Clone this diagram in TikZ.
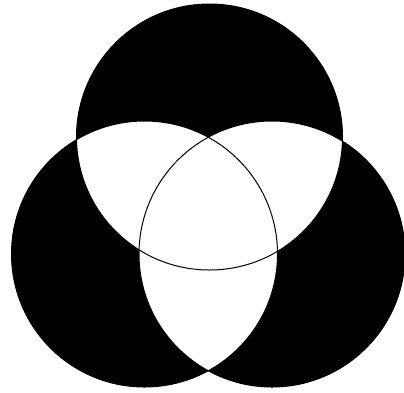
\documentclass[tikz,border=0pt]{standalone}
\begin{document}
\begin{tikzpicture}[x=1pt,y=-1pt,
  ring/.style={draw=black,line width=1pt}]
\useasboundingbox (0,0) rectangle (404,392);
\fill[white] (0,0) rectangle (404,392);
\coordinate (T) at (209.5,137);
\coordinate (L) at (144.5,254);
\coordinate (R) at (272,254);
\def\rr{133}
% one-circle regions black
\fill[black] (T) circle (\rr);
\fill[black] (L) circle (\rr);
\fill[black] (R) circle (\rr);
% overlaps white
\begin{scope}
  \clip (T) circle (\rr);
  \fill[white] (L) circle (\rr);
  \fill[white] (R) circle (\rr);
\end{scope}
\begin{scope}
  \clip (L) circle (\rr);
  \fill[white] (R) circle (\rr);
\end{scope}
\draw[ring] (T) circle (\rr);
\draw[ring] (L) circle (\rr);
\draw[ring] (R) circle (\rr);
\end{tikzpicture}
\end{document}
